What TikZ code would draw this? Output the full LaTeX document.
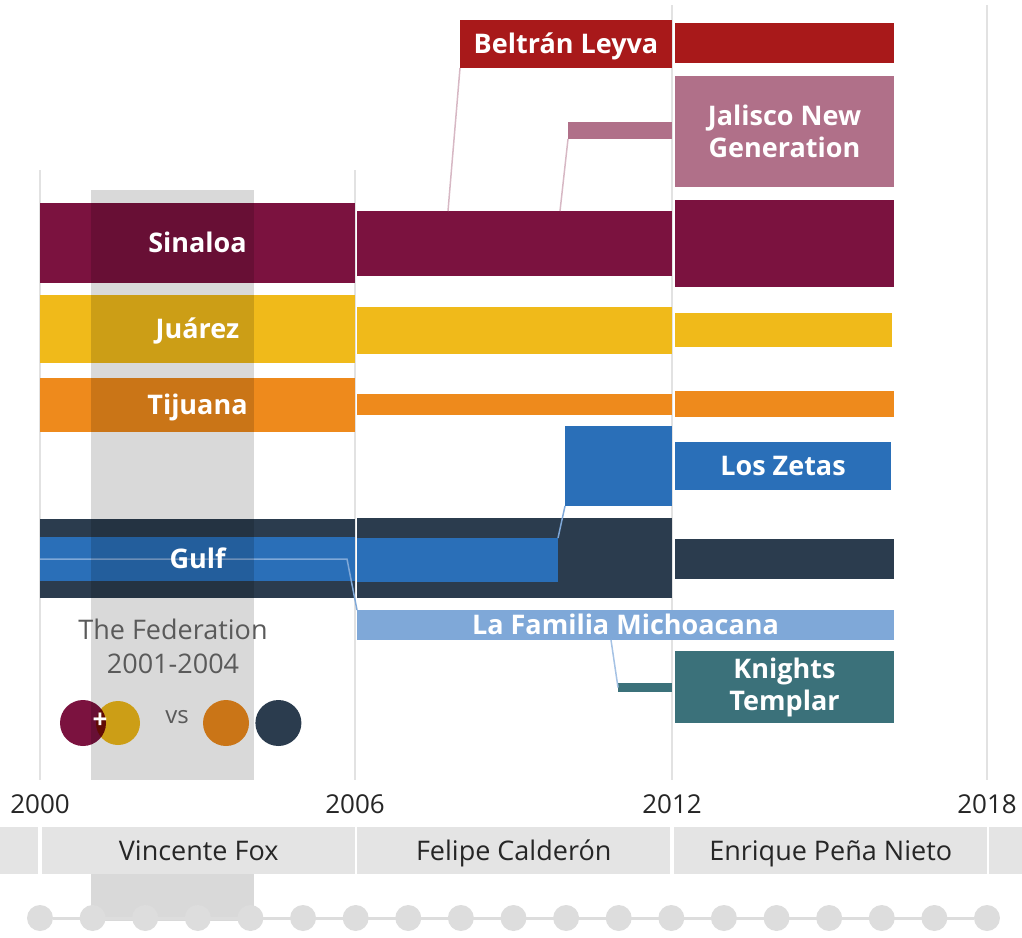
\documentclass[tikz,border=0pt]{standalone}
\usepackage{fontspec}
\setmainfont{Open Sans}
\usetikzlibrary{positioning}

\definecolor{sinaloa}{HTML}{7B123F}
\definecolor{beltran}{HTML}{A8191A}
\definecolor{jalisco}{HTML}{B07089}
\definecolor{juarez}{HTML}{F0BA1A}
\definecolor{tijuana}{HTML}{EE8A1C}
\definecolor{zetas}{HTML}{2A6FB8}
\definecolor{gulf}{HTML}{2B3C4E}
\definecolor{familia}{HTML}{7FA8D8}
\definecolor{knights}{HTML}{3B717A}
\definecolor{gridgrey}{HTML}{E2E2E2}
\definecolor{periodgrey}{HTML}{E4E4E4}
\definecolor{dotgrey}{HTML}{DDDDDD}
\definecolor{fedgrey}{HTML}{5A5A5A}

\begin{document}
\begin{tikzpicture}[
  x=1pt, y=-1pt,
  bar/.style={anchor=north west, inner sep=0pt, outer sep=0pt},
  lbl/.style={text=white, font=\bfseries\fontsize{27}{32}\selectfont, align=center, inner sep=0pt},
  onelbl/.style={lbl, text height=19pt, text depth=0pt},
  grid/.style={draw=gridgrey, line width=2pt},
  link/.style={line width=1.5pt},
  yr/.style={font=\fontsize{26}{30}\selectfont, text=black!85, inner sep=0pt},
  period/.style={anchor=north west, inner sep=0pt, fill=periodgrey, minimum height=47, text height=20pt, text depth=0pt, font=\fontsize{27}{30}\selectfont, text=black!85},
  dot/.style={circle, fill=dotgrey, minimum size=26, inner sep=0pt},
  token/.style={circle, minimum size=46, inner sep=0pt},
  fedtext/.style={text=fedgrey, font=\fontsize{27}{30}\selectfont, inner sep=0pt}
]
\useasboundingbox (0,0) rectangle (1022,937);

% year grid
\draw[grid] (40,170) -- (40,780);
\draw[grid] (355,170) -- (355,780);
\draw[grid] (672,5) -- (672,780);
\draw[grid] (987,5) -- (987,780);

% cartels, 2000-2006
\node[bar, fill=sinaloa, minimum width=315, minimum height=80] (sinA) at (40,203) {};
\node[bar, fill=juarez, minimum width=315, minimum height=68] (juaA) at (40,295) {};
\node[bar, fill=tijuana, minimum width=315, minimum height=54] (tijA) at (40,378) {};
\node[bar, fill=gulf, minimum width=315, minimum height=79] (gulA) at (40,519) {};
\node[bar, fill=zetas, minimum width=315, minimum height=44] (zinA) at (40,537) {};

% cartels, 2006-2012
\node[bar, fill=beltran, minimum width=212, minimum height=48] (belB) at (460,20) {};
\node[bar, fill=jalisco, minimum width=104, minimum height=17] (jalB) at (568,122) {};
\node[bar, fill=sinaloa, minimum width=315, minimum height=65] (sinB) at (357,211) {};
\node[bar, fill=juarez, minimum width=315, minimum height=47] (juaB) at (357,307) {};
\node[bar, fill=tijuana, minimum width=315, minimum height=21] (tijB) at (357,394) {};
\node[bar, fill=zetas, minimum width=107, minimum height=80] (zetB) at (565,426) {};
\node[bar, fill=gulf, minimum width=315, minimum height=80] (gulB) at (357,518) {};
\node[bar, fill=zetas, minimum width=201, minimum height=44] (zinB) at (357,538) {};
\node[bar, fill=familia, minimum width=537, minimum height=30] (fam) at (357,610) {};
\node[bar, fill=knights, minimum width=54, minimum height=9] (kniB) at (618,683) {};

% cartels, 2012-2018
\node[bar, fill=beltran, minimum width=219, minimum height=40] (belC) at (675,23) {};
\node[bar, fill=jalisco, minimum width=219, minimum height=111] (jalC) at (675,76) {};
\node[bar, fill=sinaloa, minimum width=219, minimum height=87] (sinC) at (675,200) {};
\node[bar, fill=juarez, minimum width=217, minimum height=34] (juaC) at (675,313) {};
\node[bar, fill=tijuana, minimum width=219, minimum height=26] (tijC) at (675,391) {};
\node[bar, fill=zetas, minimum width=216, minimum height=48] (zetC) at (675,442) {};
\node[bar, fill=gulf, minimum width=219, minimum height=40] (gulC) at (675,539) {};
\node[bar, fill=knights, minimum width=219, minimum height=72] (kniC) at (675,651) {};

% splits
\coordinate (belRoot) at (448,211);
\coordinate (jalRoot) at (560,211);
\coordinate (famStart) at (40,559);
\coordinate (famBend) at (347,559);
\coordinate (kniRoot) at (611,640);
\draw[link, jalisco!50] (belB.south west) -- (belRoot);
\draw[link, jalisco!50] (jalB.south west) -- (jalRoot);
\draw[link, familia] (zinB.north east) -- (zetB.south west);
\draw[link, familia] (famStart) -- (famBend) -- (fam.north west);
\draw[link, familia!70] (kniRoot) -- (kniB.west);

% the federation
\node[token, fill=sinaloa] (fedSin) at (83,723) {};
\begin{scope}[blend mode=multiply]
\node[token, fill=juarez, minimum size=44] (fedJua) at (118,723) {};
\end{scope}
\node[token, fill=tijuana] (fedTij) at (226,723) {};
\node[token, fill=gulf, right=6pt of fedTij] (fedGul) {};
\fill[black, fill opacity=0.15] (91,190) rectangle (254,780);
\node[text=white, font=\bfseries\fontsize{26}{26}\selectfont, inner sep=0pt] (fedPlus) at (100,721) {+};
\node[text=fedgrey, font=\fontsize{24}{26}\selectfont, inner sep=0pt] (fedVs) at (177,717) {vs};
\node[fedtext] (fedTitle) at (173,629) {The Federation};
\node[fedtext, below=14pt of fedTitle] (fedYears) {2001-2004};

% cartel names
\node[onelbl] (sinAtxt) at (sinA) {Sinaloa};
\node[onelbl] (juaAtxt) at (juaA) {Juárez};
\node[onelbl] (tijAtxt) at (tijA) {Tijuana};
\node[onelbl] (gulAtxt) at (gulA) {Gulf};
\node[onelbl] (belBtxt) at (belB) {Beltrán Leyva};
\node[onelbl] (famtxt) at (fam) {La Familia Michoacana};
\node[lbl] (jalCtxt) at (jalC) {Jalisco New\\Generation};
\node[onelbl] (zetCtxt) at (zetC) {Los Zetas};
\node[lbl] (kniCtxt) at (kniC) {Knights\\Templar};

% years and presidents
\node[yr] (y2000) at (40,804) {2000};
\node[yr] (y2006) at (355,804) {2006};
\node[yr] (y2012) at (672,804) {2012};
\node[yr] (y2018) at (987,804) {2018};
\node[period, minimum width=38] (pre) at (0,827) {};
\node[period, minimum width=313] (fox) at (42,827) {Vincente Fox};
\node[period, minimum width=313] (calderon) at (357,827) {Felipe Calderón};
\node[period, minimum width=313] (pena) at (674,827) {Enrique Peña Nieto};
\node[period, minimum width=33] (post) at (989,827) {};

% yearly dots
\fill[black, fill opacity=0.15] (91,874) rectangle (254,921);
\foreach \i in {0,...,18}
  \node[dot] (d\i) at ({40+\i*52.61},918) {};
\draw[dotgrey, line width=3pt] (d0) -- (d18);
\end{tikzpicture}
\end{document}
